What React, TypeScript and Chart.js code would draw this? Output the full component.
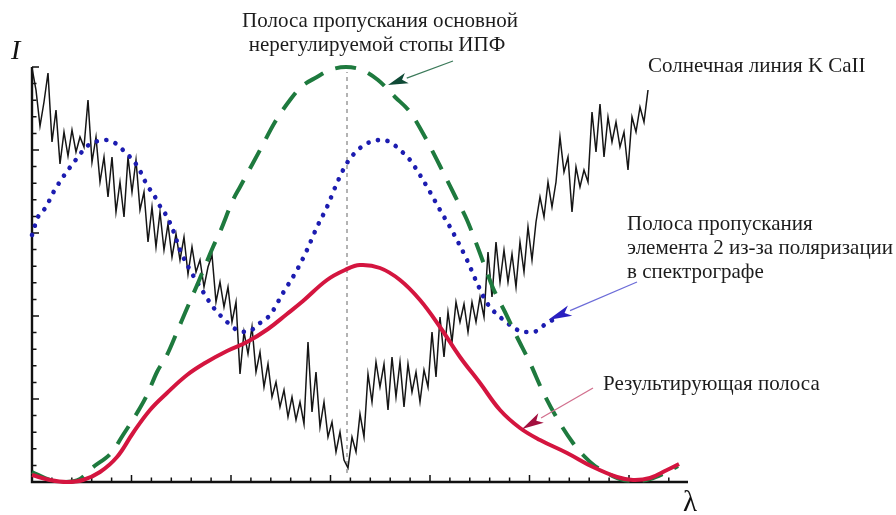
import React, { useEffect, useRef } from "react";
import { Chart, registerables } from "chart.js";
Chart.register(...registerables);

// λ axis: arbitrary units 0..656 ; I axis: arbitrary units 0..415
const X_MAX = 656;
const Y_MAX = 415;
const X_TICK_STEP = 19.9;
const Y_TICK_STEP = 16.6;
const MAJOR_EVERY = 5;

// Green dashed: passband of the main non-tunable IPF stage
const GREEN_X = [0, 18, 33, 48, 60, 80, 91, 105, 115, 125, 135, 145, 153, 166, 181, 188, 201, 208, 221, 228, 243, 258, 269, 285, 298, 314, 330, 346, 363, 378, 393, 408, 423, 435, 446, 461, 473, 485, 498, 511, 526, 541, 551, 563, 575, 588, 603, 618, 633, 646];
const GREEN_Y = [10, 2, 0, 3, 14, 30, 47, 69, 87, 110, 127, 150, 169, 199, 235, 250, 282, 295, 319, 332, 360, 382, 395, 405, 412, 415, 412, 402, 385, 370, 345, 316, 286, 262, 234, 194, 170, 145, 119, 90, 62, 39, 27, 16, 9, 3, 1, 3, 9, 16];

// Blue dotted: passband of element 2 due to polarization in spectrograph
const BLUE_X = [0, 6, 14, 21, 29, 36, 46, 54, 63, 73, 83, 93, 99, 106, 111, 116, 121, 126, 134, 141, 148, 158, 170, 181, 193, 205, 215, 228, 238, 251, 265, 275, 285, 295, 305, 315, 328, 338, 348, 358, 368, 378, 388, 398, 408, 418, 425, 435, 445, 455, 468, 481, 491, 501, 515, 525];
const BLUE_Y = [247, 265, 275, 289, 302, 312, 325, 335, 340, 342, 339, 330, 324, 315, 305, 295, 289, 279, 267, 252, 232, 212, 192, 175, 162, 152, 150, 159, 167, 189, 212, 232, 255, 275, 299, 319, 334, 340, 342, 340, 332, 322, 307, 290, 272, 255, 242, 222, 199, 179, 165, 155, 150, 150, 159, 164];

// Red solid: resulting passband
const RED_X = [0, 18, 35, 51, 68, 85, 101, 118, 135, 155, 173, 195, 215, 236, 255, 271, 295, 313, 328, 348, 368, 388, 408, 428, 448, 468, 488, 508, 535, 561, 585, 601, 618, 635, 647];
const RED_Y = [7, 2, 0, 2, 10, 25, 49, 72, 89, 107, 119, 131, 140, 153, 168, 181, 202, 212, 217, 214, 202, 182, 155, 125, 99, 72, 54, 42, 29, 15, 5, 2, 4, 12, 18];

// Black: solar K CaII line profile, sampled every SPECTRUM_STEP
const SPECTRUM_X0 = 0;
const SPECTRUM_STEP = 4;
const SPECTRUM_Y = [
  414, 392, 356, 380, 409, 340, 372, 318, 350, 326,
  352, 330, 345, 335, 382, 320, 345, 300, 325, 285,
  325, 270, 300, 265, 325, 290, 322, 272, 290, 240,
  275, 235, 270, 232, 258, 225, 248, 222, 245, 208,
  235, 210, 222, 195, 215, 227, 180, 200, 175, 195,
  160, 180, 108, 150, 128, 155, 110, 130, 95, 118,
  85, 100, 75, 92, 65, 85, 62, 80, 58, 140,
  70, 110, 55, 80, 45, 60, 30, 50, 22, 14,
  45, 30, 68, 45, 108, 80, 120, 95, 118, 72,
  125, 85, 120, 75, 118, 90, 110, 80, 112, 95,
  150, 105, 165, 125, 170, 140, 180, 160, 178, 150,
  180, 160, 185, 165, 230, 185, 240, 200, 232, 200,
  228, 195, 240, 210, 255, 222, 260, 285, 265, 300,
  275, 300, 345, 310, 325, 270, 315, 295, 312, 300,
  370, 330, 378, 325, 365, 340, 360, 335, 350, 312,
  365, 350, 375, 360, 392,
];

// Line centre marker
const CENTER_X = 315;
const CENTER_Y = [9, 410];

// Annotation arrows: [tailX, tailY, tipX, tipY] in data units
const ARROW_GREEN = [421, 421, 356, 397];
const ARROW_BLUE = [605, 200, 516, 162];
const ARROW_RED = [561, 94, 490, 53];

const TITLE_TOP = ["Полоса пропускания основной", "нерегулируемой стопы ИПФ"];
const LABEL_SUN = "Солнечная линия K CaII";
const LABEL_BLUE = ["Полоса пропускания", "элемента 2 из-за поляризации", "в спектрографе"];
const LABEL_RED = "Результирующая полоса";

const pts = (xs: number[], ys: number[]) => xs.map((x, i) => ({ x, y: ys[i] }));

const axesPlugin = {
  id: "axesInward",
  beforeDatasetsDraw(chart: any) {
    const { ctx, chartArea, scales } = chart;
    const xs = scales.x, ys = scales.y;
    ctx.save();
    ctx.strokeStyle = "#111";
    ctx.lineWidth = 2.4;
    ctx.beginPath();
    ctx.moveTo(chartArea.left, chartArea.top);
    ctx.lineTo(chartArea.left, chartArea.bottom);
    ctx.lineTo(chartArea.right, chartArea.bottom);
    ctx.stroke();
    ctx.lineWidth = 1.5;
    ctx.beginPath();
    for (let k = 1; k * X_TICK_STEP <= X_MAX + 0.01; k++) {
      const px = xs.getPixelForValue(k * X_TICK_STEP);
      const len = k % MAJOR_EVERY === 0 ? 7 : 4.5;
      ctx.moveTo(px, chartArea.bottom);
      ctx.lineTo(px, chartArea.bottom - len);
    }
    for (let k = 1; k * Y_TICK_STEP <= Y_MAX + 0.01; k++) {
      const py = ys.getPixelForValue(k * Y_TICK_STEP);
      const len = k % MAJOR_EVERY === 0 ? 7 : 4.5;
      ctx.moveTo(chartArea.left, py);
      ctx.lineTo(chartArea.left + len, py);
    }
    ctx.stroke();
    ctx.restore();
  },
};

function arrow(ctx: any, chart: any, a: number[], lineColor: string, headColor: string, headLen: number) {
  const xs = chart.scales.x, ys = chart.scales.y;
  const x1 = xs.getPixelForValue(a[0]), y1 = ys.getPixelForValue(a[1]);
  const x2 = xs.getPixelForValue(a[2]), y2 = ys.getPixelForValue(a[3]);
  const ang = Math.atan2(y2 - y1, x2 - x1);
  const bx = x2 - headLen * Math.cos(ang), by = y2 - headLen * Math.sin(ang);
  ctx.save();
  ctx.strokeStyle = lineColor;
  ctx.lineWidth = 1.3;
  ctx.beginPath();
  ctx.moveTo(x1, y1);
  ctx.lineTo(bx, by);
  ctx.stroke();
  const w = 5.5;
  ctx.fillStyle = headColor;
  ctx.beginPath();
  ctx.moveTo(x2, y2);
  ctx.lineTo(bx + w * Math.sin(ang), by - w * Math.cos(ang));
  ctx.lineTo(bx + 0.25 * headLen * Math.cos(ang), by + 0.25 * headLen * Math.sin(ang));
  ctx.lineTo(bx - w * Math.sin(ang), by + w * Math.cos(ang));
  ctx.closePath();
  ctx.fill();
  ctx.restore();
}

const annotPlugin = {
  id: "annotations",
  afterDraw(chart: any) {
    const { ctx } = chart;
    arrow(ctx, chart, ARROW_GREEN, "#3c7a5a", "#0f4a36", 20);
    arrow(ctx, chart, ARROW_BLUE, "#6c6cd8", "#2a20c0", 24);
    arrow(ctx, chart, ARROW_RED, "#d2708e", "#a3103f", 22);
    ctx.save();
    ctx.fillStyle = "#1c1c1c";
    ctx.font = '21px "Liberation Serif", "Times New Roman", serif';
    ctx.textBaseline = "alphabetic";
    ctx.textAlign = "center";
    ctx.fillText(TITLE_TOP[0], 380, 27);
    ctx.fillText(TITLE_TOP[1], 377, 51);
    ctx.textAlign = "left";
    ctx.fillText(LABEL_SUN, 648, 72);
    ctx.fillText(LABEL_BLUE[0], 627, 230);
    ctx.fillText(LABEL_BLUE[1], 627, 254);
    ctx.fillText(LABEL_BLUE[2], 627, 278);
    ctx.fillText(LABEL_RED, 603, 390);
    ctx.fillStyle = "#111";
    ctx.font = 'italic 28px "Liberation Serif", "Times New Roman", serif';
    ctx.fillText("I", 11, 59);
    ctx.font = '29px "Liberation Serif", "Times New Roman", serif';
    ctx.fillText("λ", 683, 511);
    ctx.restore();
  },
};

export default function App() {
  const ref = useRef<HTMLCanvasElement>(null);
  useEffect(() => {
    document.body.style.margin = "0";
    const canvas = ref.current!;
    const chart = new Chart(canvas, {
      type: "line",
      data: {
        datasets: [
          {
            label: "Результирующая полоса",
            data: pts(RED_X, RED_Y),
            borderColor: "#d4153f",
            borderWidth: 4,
            pointRadius: 0,
            tension: 0.4,
            clip: false,
          },
          {
            label: "Полоса пропускания основной нерегулируемой стопы ИПФ",
            data: pts(GREEN_X, GREEN_Y),
            borderColor: "#1e7a3e",
            borderWidth: 4,
            borderDash: [21, 13],
            pointRadius: 0,
            cubicInterpolationMode: "monotone",
            clip: false,
          },
          {
            label: "Полоса пропускания элемента 2",
            data: pts(BLUE_X, BLUE_Y),
            borderColor: "#1c1cb0",
            borderWidth: 4.6,
            borderDash: [0.1, 9.6],
            borderCapStyle: "round",
            pointRadius: 0,
            cubicInterpolationMode: "monotone",
            clip: false,
          },
          {
            label: "Солнечная линия K CaII",
            data: SPECTRUM_Y.map((y, i) => ({ x: SPECTRUM_X0 + i * SPECTRUM_STEP, y })),
            borderColor: "#151515",
            borderWidth: 1.5,
            pointRadius: 0,
            tension: 0,
            clip: false,
          },
          {
            label: "centre",
            data: CENTER_Y.map((y) => ({ x: CENTER_X, y })),
            borderColor: "#8a8a8a",
            borderWidth: 1.3,
            borderDash: [4, 4],
            pointRadius: 0,
            clip: false,
          },
        ],
      },
      options: {
        responsive: false,
        animation: false,
        devicePixelRatio: 1,
        events: [],
        layout: { padding: { left: 32, top: 67, right: 208, bottom: 33 } },
        scales: {
          x: { type: "linear", min: 0, max: X_MAX, display: false },
          y: { type: "linear", min: 0, max: Y_MAX, display: false },
        },
        plugins: { legend: { display: false }, tooltip: { enabled: false } },
      },
      plugins: [axesPlugin, annotPlugin],
    } as any);
    return () => chart.destroy();
  }, []);
  return (
    <div style={{ position: "fixed", left: 0, top: 0, width: 896, height: 515, background: "#fff" }}>
      <canvas ref={ref} width={896} height={515} style={{ display: "block", width: 896, height: 515 }} />
    </div>
  );
}
